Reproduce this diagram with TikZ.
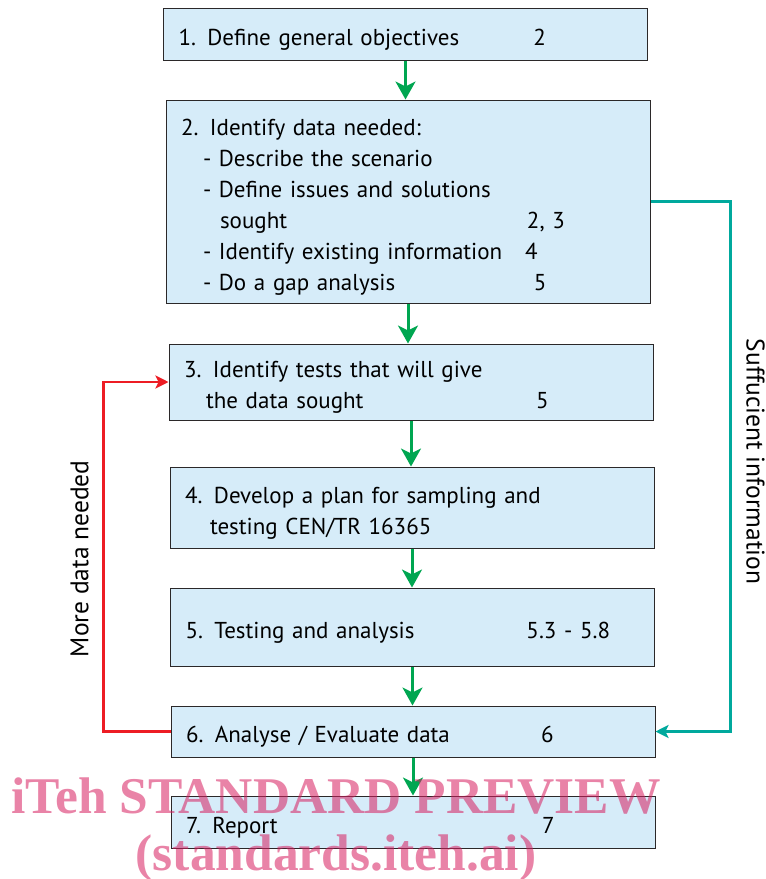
\documentclass[tikz,border=0pt]{standalone}
\usepackage{fontspec}
\setmainfont{PT Sans}
\newfontfamily\wmfont{Liberation Serif}
\usetikzlibrary{positioning,arrows.meta,calc}
\definecolor{boxbg}{HTML}{D6ECF9}
\definecolor{ink}{HTML}{2B2829}
\definecolor{flow}{HTML}{00A651}
\definecolor{loopred}{HTML}{ED1C24}
\definecolor{teal}{HTML}{00A99D}
\definecolor{wmpink}{HTML}{D71E5F}
% text with its clause number set at a fixed tab
\newcommand{\refline}[3][355pt]{\makebox[#1][l]{#2}#3}
\tikzset{
  blk/.style={rectangle,draw=ink,line width=1pt,fill=boxbg,
    minimum width=484pt,text width=454pt,align=left,inner xsep=15pt,
    inner ysep=0pt,font=\fontsize{23}{31}\selectfont,
    execute at begin node={\rule{0pt}{27pt}}},
  ar/.style={-{Stealth[length=18pt,width=20pt,inset=5pt]},line width=3pt,draw=flow},
  back/.style={-{Stealth[length=13pt,width=13pt,inset=3pt]},line width=2.8pt,draw=loopred},
  jump/.style={-{Stealth[length=13pt,width=13pt,inset=3pt]},line width=2.8pt,draw=teal},
  lbl/.style={font=\fontsize{25.5}{25.5}\selectfont},
  wmark/.style={font=\wmfont\bfseries\fontsize{51.5}{51.5}\selectfont,text=wmpink,
    text opacity=0.55,inner sep=0pt},
}
\begin{document}
\begin{tikzpicture}[x=1pt,y=1pt]
  \useasboundingbox (0,0) rectangle (766,-879);
  % steps
  \node[blk,minimum height=52pt] (b1) at (405.5,-34) {\refline{1. Define general objectives}{2}};
  \node[blk,minimum height=203pt,below=39pt of b1,xshift=2.5pt] (b2) {2. Identify data needed:\\
    \hspace*{22pt}- Describe the scenario\\
    \hspace*{22pt}- Define issues and solutions\\
    \hspace*{39pt}\refline[307pt]{sought}{2, 3}\\
    \hspace*{22pt}\refline[322pt]{- Identify existing information}{4}\\
    \hspace*{22pt}\refline[331pt]{- Do a gap analysis}{5}};
  \node[blk,minimum height=76pt,below=40pt of b2,xshift=3pt] (b3) {3. Identify tests that will give\\
    \hspace*{22pt}\refline[330pt]{the data sought}{5}};
  \node[blk,minimum height=81pt,below=46pt of b3,xshift=1pt] (b4) {4. Develop a plan for sampling and\\
    \hspace*{25pt}testing CEN/TR 16365};
  \node[blk,minimum height=78pt,below=39pt of b4,xshift=0.5pt] (b5) {\refline[341pt]{5. Testing and analysis}{5.3 - 5.8}};
  \node[blk,minimum height=51pt,below=39pt of b5,xshift=0.5pt] (b6) {\refline{6. Analyse / Evaluate data}{6}};
  \node[blk,minimum height=52pt,below=38pt of b6] (b7) {\refline[356pt]{7. Report}{7}};
  % main flow
  \foreach \a/\b in {b1/b2,b2/b3,b3/b4,b4/b5,b5/b6,b6/b7}
    \draw[ar] (\a.south) -- (\a.south |- \b.north);
  % loop back
  \draw[back] (b6.west) -- ++(-67,0) coordinate (rl) |- (b3.west);
  \node[lbl,rotate=90] (more) at ($(rl)!0.5!(rl|-b3.west)+(-24,-2)$) {More data needed};
  % skip to evaluation
  \draw[jump] (b2.east) -- ++(80,0) coordinate (tr) |- (b6.east);
  \node[lbl,rotate=-90] (suff) at ($(tr)!0.5!(tr|-b6.east)+(25,5)$) {Suffucient information};
  % overlay
  \node[wmark,anchor=base] (wm1) at (336,-813) {iTeh STANDARD PREVIEW};
  \node[wmark,anchor=base] (wm2) at (336,-870) {(standards.iteh.ai)};
\end{tikzpicture}
\end{document}
